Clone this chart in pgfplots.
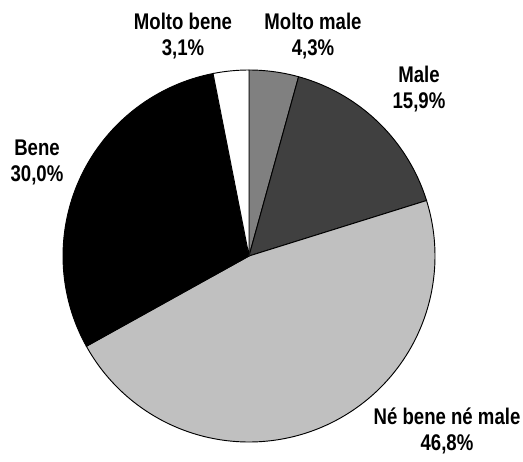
\documentclass[border=0pt]{standalone}
\usepackage{pgfplots}
\pgfplotsset{compat=1.18}
\usepackage{fontspec}
\setmainfont{Liberation Sans}[FakeStretch=0.82]
\definecolor{cMM}{HTML}{808080}
\definecolor{cM}{HTML}{404040}
\definecolor{cN}{HTML}{C0C0C0}
\definecolor{cB}{HTML}{000000}
\definecolor{cMB}{HTML}{FFFFFF}
% shares (%), clockwise from 12 o'clock
\def\vMM{4.3}\def\vM{15.9}\def\vN{46.8}\def\vB{30.0}\def\vMB{3.1}
\pgfmathsetmacro\tot{\vMM+\vM+\vN+\vB+\vMB}
\pgfmathsetmacro\k{360/\tot}
\pgfmathsetmacro\aA{90}
\pgfmathsetmacro\aB{\aA-\k*\vMM}
\pgfmathsetmacro\aC{\aB-\k*\vM}
\pgfmathsetmacro\aD{\aC-\k*\vN}
\pgfmathsetmacro\aE{\aD-\k*\vB}
\pgfmathsetmacro\aF{\aE-\k*\vMB}
\def\cx{249}\def\cy{205}\def\R{186}
\begin{document}
\begin{tikzpicture}
\begin{axis}[at={(0,0)},anchor=south west,scale only axis,width=392.25pt,height=345.75pt,
  xmin=0,xmax=523,ymin=0,ymax=461,hide axis,clip=false]
\addplot[draw=black,line width=0.7pt,fill=cMM,domain=\aB:\aA,samples=30,variable=\t]
  ({\cx+\R*cos(\t)},{\cy+\R*sin(\t)}) -- (axis cs:\cx,\cy) -- cycle;
\addplot[draw=black,line width=0.7pt,fill=cM,domain=\aC:\aB,samples=60,variable=\t]
  ({\cx+\R*cos(\t)},{\cy+\R*sin(\t)}) -- (axis cs:\cx,\cy) -- cycle;
\addplot[draw=black,line width=0.7pt,fill=cN,domain=\aD:\aC,samples=150,variable=\t]
  ({\cx+\R*cos(\t)},{\cy+\R*sin(\t)}) -- (axis cs:\cx,\cy) -- cycle;
\addplot[draw=black,line width=0.7pt,fill=cB,domain=\aE:\aD,samples=100,variable=\t]
  ({\cx+\R*cos(\t)},{\cy+\R*sin(\t)}) -- (axis cs:\cx,\cy) -- cycle;
\addplot[draw=black,line width=0.7pt,fill=cMB,domain=\aF:\aE,samples=20,variable=\t]
  ({\cx+\R*cos(\t)},{\cy+\R*sin(\t)}) -- (axis cs:\cx,\cy) -- cycle;
\begin{scope}[every node/.style={align=center,font=\bfseries\fontsize{17}{19.5}\selectfont,inner sep=0pt}]
\node at (axis cs:183,425) {Molto bene\\3,1\%};
\node at (axis cs:313,425) {Molto male\\4,3\%};
\node at (axis cs:419,372) {Male\\15,9\%};
\node at (axis cs:37,299) {Bene\\30,0\%};
\node at (axis cs:447,30) {Né bene né male\\46,8\%};
\end{scope}
\end{axis}
\pgfresetboundingbox
\useasboundingbox (0,0) rectangle (392.25pt,345.75pt);
\end{tikzpicture}
\end{document}
